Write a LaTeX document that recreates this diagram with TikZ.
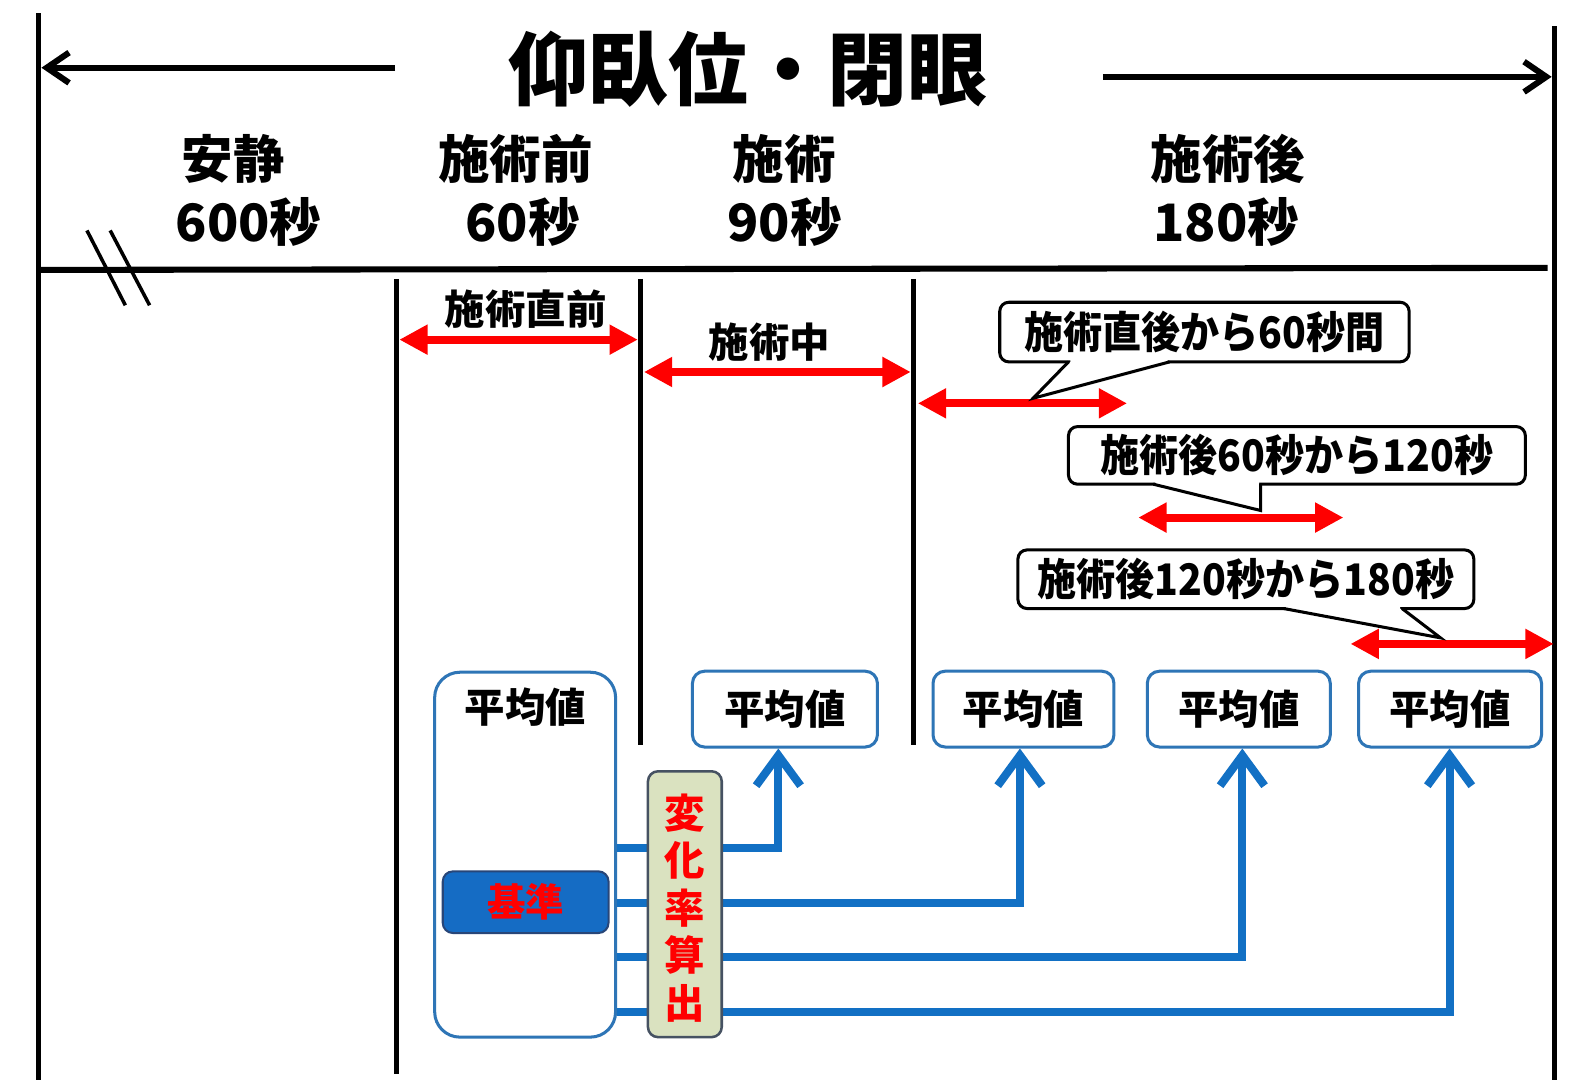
\documentclass[tikz,border=0pt]{standalone}
\usepackage{fontspec}
\setmainfont{Noto Sans CJK JP}
\newfontfamily\jpnarrow{Noto Sans CJK JP}[FakeStretch=0.9]
\usetikzlibrary{arrows.meta}
\definecolor{cred}{RGB}{255,0,0}
\definecolor{cblue}{RGB}{18,112,196}
\definecolor{cbord}{RGB}{46,117,182}
\definecolor{kfill}{RGB}{21,108,196}
\definecolor{kbord}{RGB}{40,70,120}
\definecolor{hfill}{RGB}{218,226,192}
\definecolor{hbord}{RGB}{70,82,98}
\newcommand\fsz[1]{\fontsize{#1pt}{#1pt}\selectfont}
\begin{document}
\begin{tikzpicture}[x=1pt,y=-1pt,
  frameline/.style={line width=5pt,black},
  divline/.style={line width=5pt,black},
  topar/.style={line width=6pt,-{Straight Barb[length=22pt,width=30pt]}},
  redar/.style={draw=cred,line width=8pt,{Triangle[length=28pt,width=28pt]}-{Triangle[length=28pt,width=28pt]}},
  bluear/.style={draw=cblue,line width=8pt,-{Straight Barb[length=30pt,width=44pt]}},
  avg/.style={draw=cbord,line width=3pt,rounded corners=12pt,fill=white,inner sep=0pt,minimum height=75pt,font=\fsz{40}\bfseries},
  callout/.style={draw=black,line width=3pt,rounded corners=9pt,fill=white,inner sep=0pt,font=\jpnarrow\fsz{43}\bfseries},
  tailline/.style={draw=black,line width=3pt,line join=miter},
  lbl/.style={inner sep=0pt,font=\fsz{40}\bfseries},
  hdr/.style={inner sep=0pt,font=\fsz{51}\bfseries},
]
\useasboundingbox (0,0) rectangle (1568,1068);
\fill[white] (0,0) rectangle (1568,1068);

% frame
\draw[frameline] (38,13) -- (38,1068);
\draw[frameline] (1538,26) -- (1538,1068);
\draw[line width=6pt] (38,267) -- (1531,265);
\draw[line width=3.5pt] (86,228) -- (124,302);
\draw[line width=3.5pt] (109,228) -- (148,302);

% title and top arrows
\node[inner sep=0pt,font=\fsz{79}\bfseries] (title) at (740,68) {仰臥位・閉眼};
\coordinate (tl1) at (391,67);
\coordinate (tl2) at (41,67);
\coordinate (tr1) at (1091,76);
\coordinate (tr2) at (1535,76);
\draw[topar] (tl1) -- (tl2);
\draw[topar] (tr1) -- (tr2);

% headers
\node[hdr] (h1a) at (231,157) {安静};
\node[hdr] (h1b) at (246,220) {600秒};
\node[hdr] (h2a) at (510,157) {施術前};
\node[hdr] (h2b) at (517,220) {60秒};
\node[hdr] (h3a) at (776,157) {施術};
\node[hdr] (h3b) at (776,220) {90秒};
\node[hdr] (h4a) at (1215,157) {施術後};
\node[hdr] (h4b) at (1213,220) {180秒};

% dividers
\draw[divline] (392,276) -- (392,1062);
\draw[divline] (634,276) -- (634,737);
\draw[divline] (904,276) -- (904,737);

% red arrows
\coordinate (r1a) at (395,336);  \coordinate (r1b) at (631,336);
\coordinate (r2a) at (637,368);  \coordinate (r2b) at (901,368);
\coordinate (r3a) at (908,399);  \coordinate (r3b) at (1115,399);
\coordinate (r4a) at (1126,512); \coordinate (r4b) at (1329,512);
\coordinate (r5a) at (1336,637); \coordinate (r5b) at (1537,637);
\draw[redar] (r1a) -- (r1b);
\draw[redar] (r2a) -- (r2b);
\draw[redar] (r3a) -- (r3b);
\draw[redar] (r4a) -- (r4b);
\draw[redar] (r5a) -- (r5b);
\node[lbl] (l1) at (520,306) {施術直前};
\node[lbl] (l2) at (761,338) {施術中};

% callouts
\node[callout,minimum width=405pt,minimum height=59pt] (c1) at (1191.5,328.5) {施術直後から60秒間};
\coordinate (c1tip) at (1022,394);
\fill[white] (1059,355) -- (1059,358) -- (c1tip) -- (1155,358) -- (1155,355) -- cycle;
\draw[tailline] (1057,358) -- (c1tip) -- (1157,358);

\node[callout,minimum width=452pt,minimum height=57pt] (c2) at (1283,450.5) {施術後60秒から120秒};
\coordinate (c2tip) at (1247,505);
\fill[white] (1143,476) -- (1143,479) -- (c2tip) -- (1245.5,479) -- (1245.5,476) -- cycle;
\draw[tailline] (1141,479) -- (c2tip) -- (1247,479);

\node[callout,minimum width=451pt,minimum height=58pt] (c3) at (1232.5,573) {施術後120秒から180秒};
\coordinate (c3tip) at (1425,631);
\fill[white] (1272,598) -- (1272,602) -- (c3tip) -- (1385,602) -- (1385,598) -- cycle;
\draw[tailline] (1270,602) -- (c3tip) -- (1387,602);

% average boxes
\node[avg,minimum width=179pt,minimum height=361pt,rounded corners=25pt] (big) at (519.5,845.5) {};
\node[lbl] (bigt) at (520,700) {平均値};
\node[avg,minimum width=183pt] (b2) at (776.5,701.5) {平均値};
\node[avg,minimum width=179pt] (b3) at (1012.5,701.5) {平均値};
\node[avg,minimum width=181pt] (b4) at (1225.5,701.5) {平均値};
\node[avg,minimum width=181pt] (b5) at (1434.5,701.5) {平均値};

\node[draw=kbord,line width=2pt,fill=kfill,rounded corners=10pt,minimum width=164pt,minimum height=61pt,inner sep=0pt,text=cred,font=\fsz{38}\bfseries] (kijun) at (520,892.5) {基準};

% blue connectors
\coordinate (y1) at (0,839);
\coordinate (y2) at (0,893);
\coordinate (y3) at (0,947);
\coordinate (y4) at (0,1001);
\coordinate (x2) at (770,0);
\coordinate (x3) at (1009,0);
\coordinate (x4) at (1229,0);
\coordinate (x5) at (1434,0);
\draw[bluear] (big.east |- y1) -| (b2.south -| x2);
\draw[bluear] (big.east |- y2) -| (b3.south -| x3);
\draw[bluear] (big.east |- y3) -| (b4.south -| x4);
\draw[bluear] (big.east |- y4) -| (b5.south -| x5);

% change-rate box
\node[draw=hbord,line width=2.5pt,fill=hfill,rounded corners=10pt,minimum width=73pt,minimum height=263pt,inner sep=0pt] (rate) at (677.5,894.5) {};
\node[inner sep=0pt,align=center,text=cred,font=\fontsize{40pt}{47pt}\selectfont\bfseries] (ratet) at (677.5,898) {変\\化\\率\\算\\出};
\end{tikzpicture}
\end{document}
